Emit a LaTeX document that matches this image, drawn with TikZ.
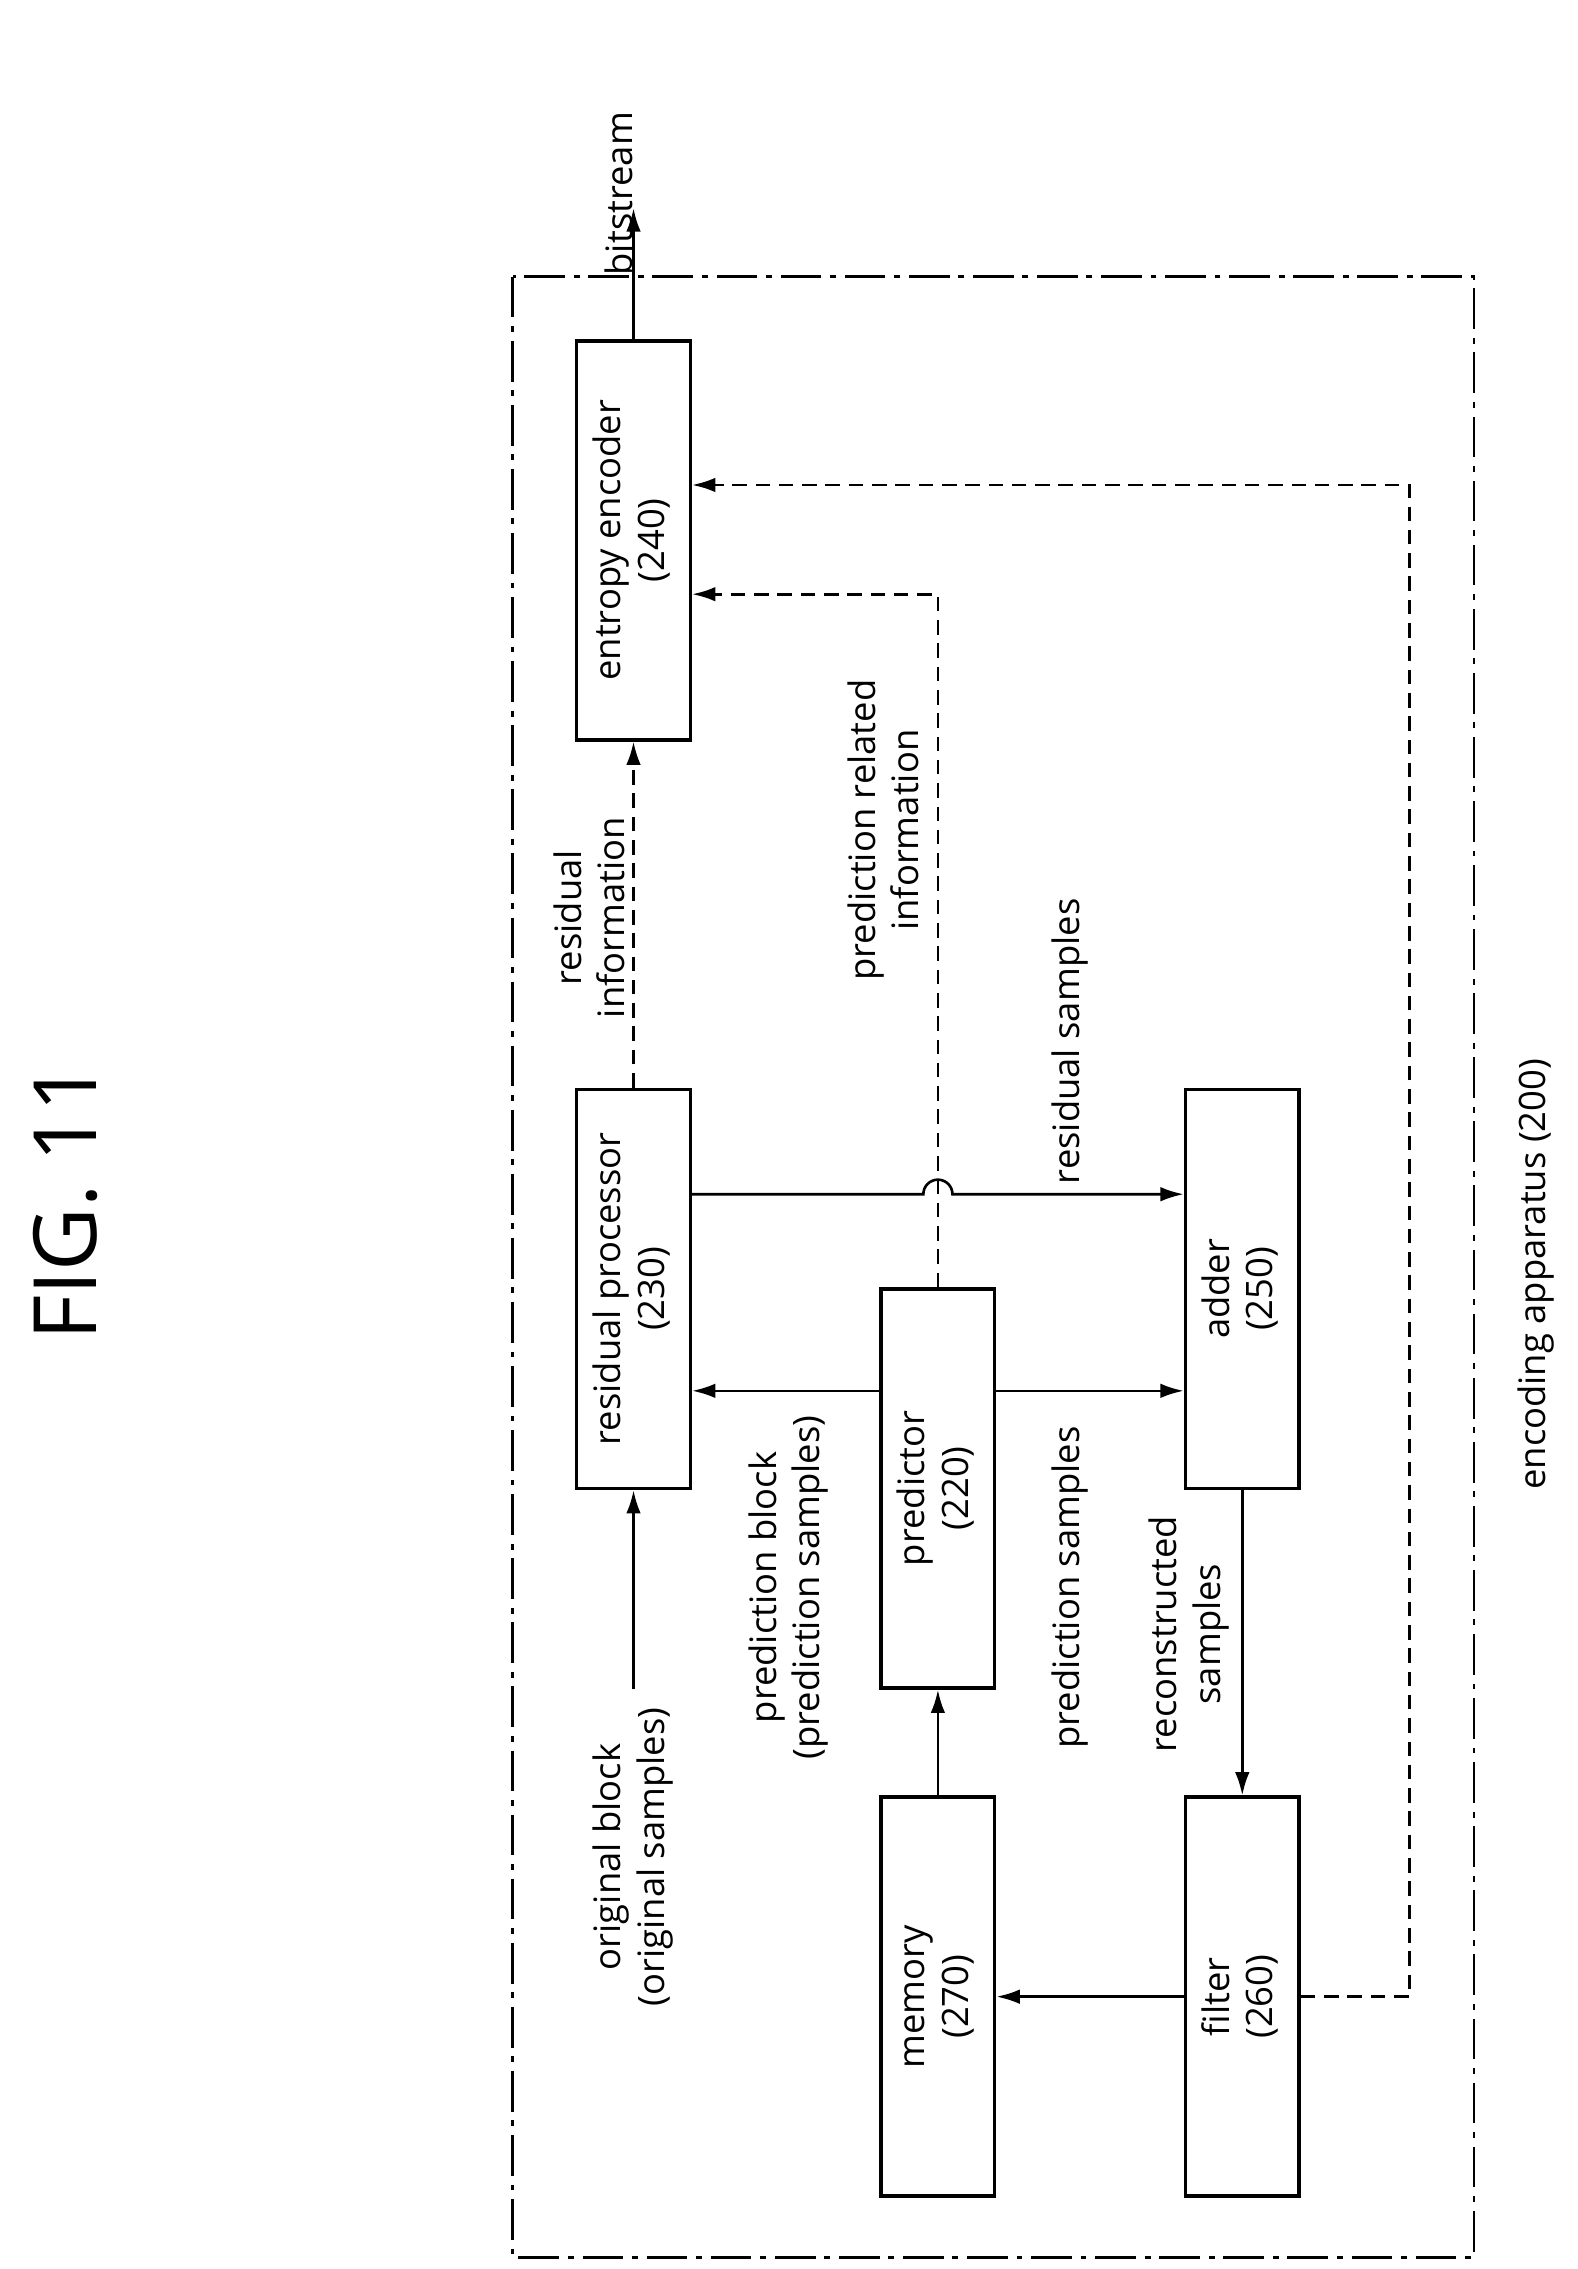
\documentclass[tikz,border=0pt]{standalone}
\usepackage{fontspec}
\setmainfont{Open Sans}
\usetikzlibrary{arrows.meta}
\begin{document}
\begin{tikzpicture}[x=0.5pt,y=-0.5pt,
  font=\fontsize{12.5}{15}\selectfont,
  box/.style={draw,line width=1.2pt,minimum width=39pt,minimum height=137pt,inner sep=0pt},
  lbl/.style={inner sep=0pt},
  ar/.style={line width=0.9pt,-{Latex[length=8pt,width=5pt]}},
  dsh/.style={ar,dash pattern=on 5pt off 3pt}]
\useasboundingbox (0,0) rectangle (1083,1558);
\newcommand{\rt}[1]{\rotatebox{90}{\begin{tabular}{@{}c@{}}#1\end{tabular}}}
\node[font=\fontsize{30}{36}\selectfont] (fig) at (45,825) {\rotatebox{90}{FIG. 11}};
\draw[line width=0.9pt,dash pattern=on 14pt off 3pt on 2pt off 3pt] (352,190) rectangle (1012,1550);
\node[box] (ent) at (435,371) {\rt{entropy encoder\\(240)}};
\node[box] (res) at (435,885) {\rt{residual processor\\(230)}};
\node[box] (pred) at (644,1022) {\rt{predictor\\(220)}};
\node[box] (add) at (853,885) {\rt{adder\\(250)}};
\node[box] (mem) at (644,1371) {\rt{memory\\(270)}};
\node[box] (fil) at (853,1371) {\rt{filter\\(260)}};
\coordinate (bs) at (435,143);
\node[lbl,anchor=east] (bst) at (435,133) {\rotatebox{90}{bitstream}};
\coordinate (orig) at (435,1160);
\node[lbl] (origt) at (435,1275) {\rt{original block\\(original samples)}};
\node[lbl] (pbt) at (542,1090) {\rt{prediction block\\(prediction samples)}};
\node[lbl] (pst) at (735,1090) {\rt{prediction samples}};
\node[lbl] (rst) at (735,715) {\rt{residual samples}};
\node[lbl] (prit) at (610,570) {\rt{prediction related\\information}};
\node[lbl] (rit) at (408,630) {\rt{residual\\information}};
\node[lbl] (rct) at (817,1122) {\rt{reconstructed\\samples}};
\node[lbl] (eat) at (1055,875) {\rt{encoding apparatus (200)}};
\draw[ar] (ent.north) -- (bs);
\draw[ar] (orig) -- (res.south);
\draw[ar] (pred.west |- 0,955) -- (res.east |- 0,955);
\draw[ar] (pred.east |- 0,955) -- (add.west |- 0,955);
\draw[ar] (res.east |- 0,820) -- (634,820) arc[start angle=180,end angle=0,radius=5pt] -- (add.west |- 0,820);
\draw[dsh] (pred.north) -- (644,408) -- (ent.east |- 0,408);
\draw[dsh] (res.north) -- (ent.south);
\draw[ar] (add.south) -- (fil.north);
\draw[ar] (mem.north) -- (pred.south);
\draw[ar] (fil.west) -- (mem.east);
\draw[dsh] (fil.east) -- (968,1371) -- (968,333) -- (ent.east |- 0,333);
\end{tikzpicture}
\end{document}
